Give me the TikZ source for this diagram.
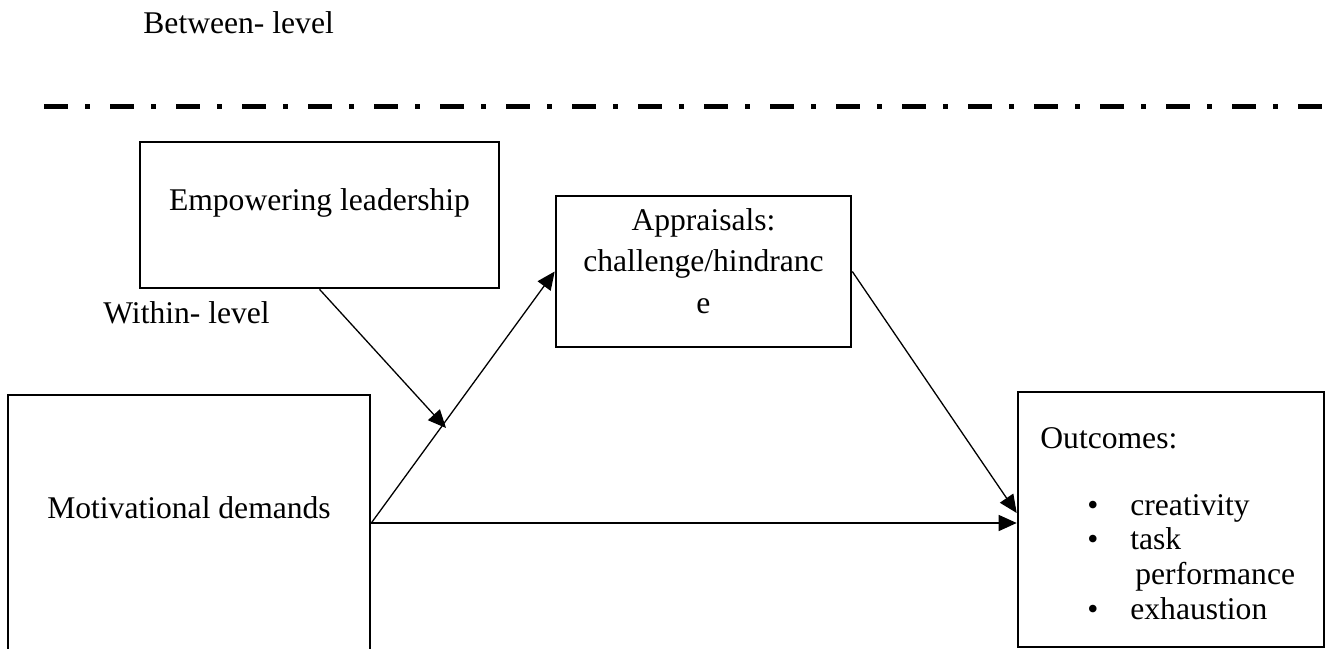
\documentclass[tikz,border=0pt]{standalone}
\usepackage{fontspec}
\setmainfont{Liberation Serif}
\usetikzlibrary{arrows.meta,calc}
\begin{document}
\begin{tikzpicture}[x=0.5pt,y=-0.5pt,
  every node/.style={font=\fontsize{15.8}{19}\selectfont},
  box/.style={draw, rectangle, line width=1.3pt, inner sep=0pt},
  lbl/.style={inner sep=0pt, anchor=base},
  arr/.style={line width=0.65pt, -{Triangle[length=9pt,width=8pt]}},
  levelline/.style={line width=2.5pt, line cap=butt,
    dash pattern=on 12pt off 8.5pt on 2.5pt off 10pt}]
  \useasboundingbox (0,0) rectangle (1333,648);
  \clip (0,0) rectangle (1333,648);

  % level labels and the divider between the two levels
  \node[lbl, anchor=base west] (between) at (143,33) {Between- level};
  \draw[levelline] (44,106) -- (1323,106);
  \node[lbl, anchor=base west] (within) at (103,323) {Within- level};

  % boxes
  \node[box, minimum width=179.5pt, minimum height=73pt]   (emp) at (319.5,215)  {};
  \node[box, minimum width=147.5pt, minimum height=75.5pt] (ap)  at (703.5,271.5) {};
  \node[box, minimum width=181pt,   minimum height=128pt]  (md)  at (189,523)    {};
  \node[box, minimum width=153pt,   minimum height=127.5pt] (ot) at (1171,519.5) {};

  % box texts
  \node[lbl] (empt) at (319.5,210) {Empowering leadership};
  \node[lbl] (apt) at (703.5,230)
    {\fontsize{15.8}{20.8}\selectfont\begin{tabular}[t]{@{}c@{}}Appraisals:\\challenge/hindranc\\e\end{tabular}};
  \node[lbl] (mdt) at (189,518) {Motivational demands};
  \node[lbl, anchor=base west] (ott) at (1040,448) {Outcomes:};
  \node[lbl, anchor=base west] (otl) at (1087,515)
    {\fontsize{15.8}{17.35}\selectfont\begin{tabular}[t]{@{}p{21.5pt}@{}l@{}}
      \textbullet & creativity\\
      \textbullet & task\\
                  & \hspace{2.5pt}performance\\
      \textbullet & exhaustion
    \end{tabular}};

  % connectors
  \coordinate (mod) at (446,428);
  \draw[arr] (md.east) -- (ap.west);
  \draw[arr] (md.east) -- (md.east -| ot.west);
  \draw[arr] (ap.east) -- ($(ot.west)+(0,-6.5)$);
  \draw[arr] (emp.south) -- (mod);
\end{tikzpicture}
\end{document}
